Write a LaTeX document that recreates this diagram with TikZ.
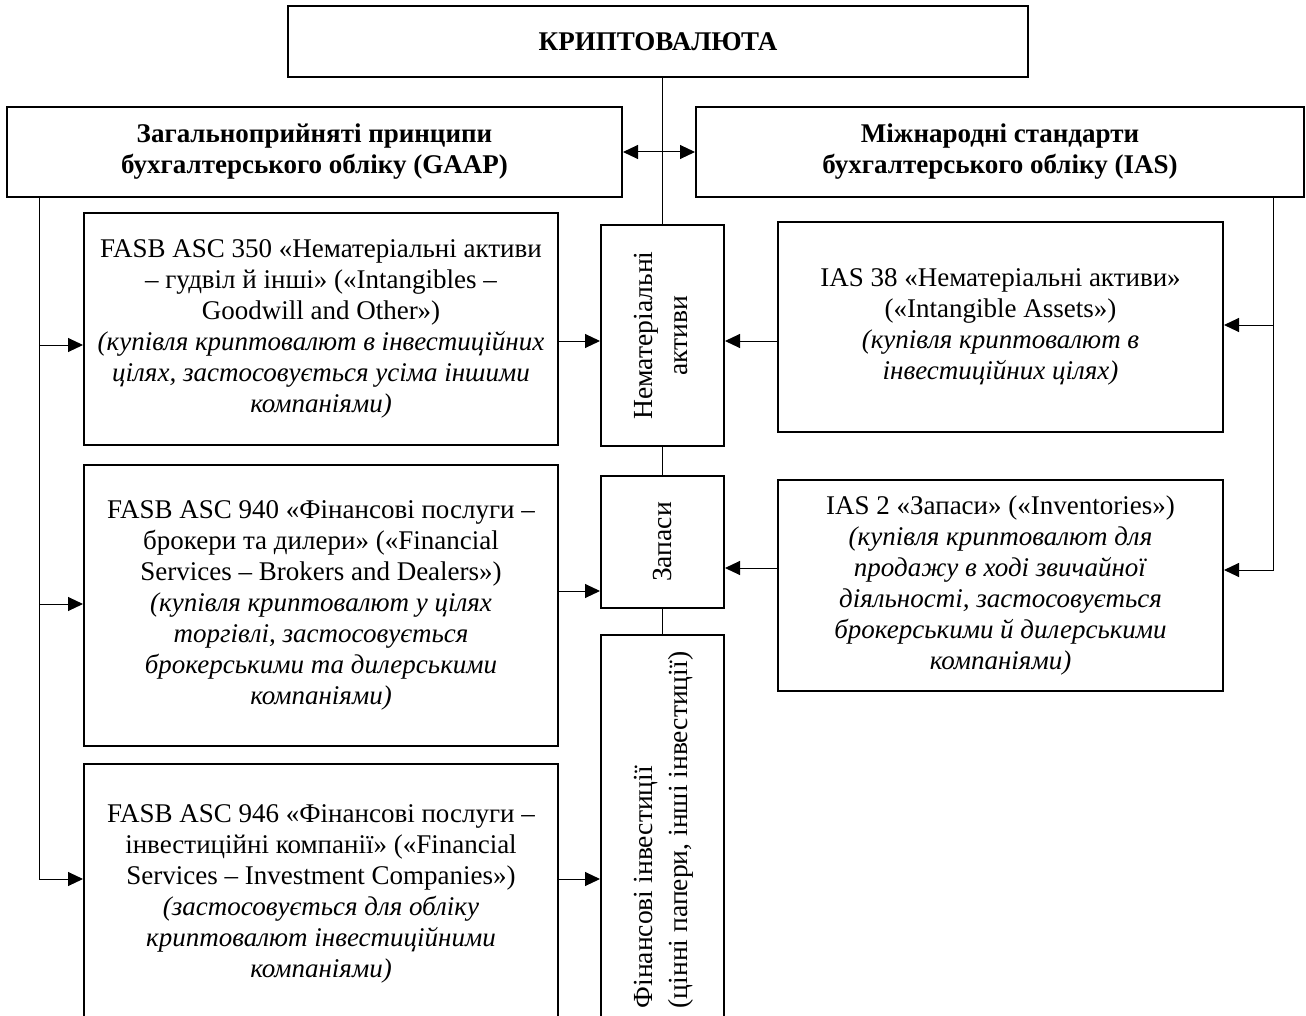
\documentclass[tikz,border=0pt]{standalone}
\usepackage{fontspec}
\setmainfont{Liberation Serif}
\usetikzlibrary{arrows.meta}
\begin{document}
\begin{tikzpicture}[x=0.5pt,y=-0.5pt,
  box/.style={draw, line width=1pt, align=center, inner sep=0pt, font=\fontsize{13.5}{15.5}\selectfont},
  bbox/.style={box, font=\fontsize{13.5}{15.5}\selectfont\bfseries},
  rot/.style={draw, line width=1pt, inner sep=0pt, minimum width=61.5pt, font=\fontsize{13.8}{17.5}\selectfont},
  link/.style={line width=0.5pt},
  arr/.style={line width=0.5pt, -{Triangle[length=7.5pt,width=7pt]}},
  darr/.style={line width=0.5pt, {Triangle[length=7.5pt,width=7pt]}-{Triangle[length=7.5pt,width=7pt]}},
]
\useasboundingbox (0,0) rectangle (1306,1016);
\clip (0,0) rectangle (1306,1016);

\node[bbox, minimum width=370pt, minimum height=35.5pt] (top) at (658,41.5) {КРИПТОВАЛЮТА};
\node[bbox, minimum width=307.5pt, minimum height=45pt] (gaap) at (314.5,152) {Загальноприйняті принципи\\бухгалтерського обліку (GAAP)};
\node[bbox, minimum width=304pt, minimum height=45pt] (ias) at (1000,152) {Міжнародні стандарти\\бухгалтерського обліку (IAS)};

\node[box, minimum width=237pt, minimum height=116pt] (f350) at (321,329) {FASB ASC 350 «Нематеріальні активи\\– гудвіл й інші» («Intangibles –\\Goodwill and Other»)\\\textit{(купівля криптовалют в інвестиційних}\\\textit{цілях, застосовується усіма іншими}\\\textit{компаніями)}};
\node[box, minimum width=237pt, minimum height=140.5pt] (f940) at (321,605.5) {FASB ASC 940 «Фінансові послуги –\\брокери та дилери» («Financial\\Services – Brokers and Dealers»)\\\textit{(купівля криптовалют у цілях}\\\textit{торгівлі, застосовується}\\\textit{брокерськими та дилерськими}\\\textit{компаніями)}};
\node[box, minimum width=237pt, minimum height=130pt] (f946) at (321,894) {FASB ASC 946 «Фінансові послуги –\\інвестиційні компанії» («Financial\\Services – Investment Companies»)\\\textit{(застосовується для обліку}\\\textit{криптовалют інвестиційними}\\\textit{компаніями)}};

\node[box, minimum width=222.5pt, minimum height=104.5pt] (ias38) at (1000.5,327) {IAS 38 «Нематеріальні активи»\\(«Intangible Assets»)\\\textit{(купівля криптовалют в}\\\textit{інвестиційних цілях)}};
\node[box, minimum width=222.5pt, minimum height=105.5pt] (ias2) at (1000.5,585.5) {IAS 2 «Запаси» («Inventories»)\\\textit{(купівля криптовалют для}\\\textit{продажу в ході звичайної}\\\textit{діяльності, застосовується}\\\textit{брокерськими й дилерськими}\\\textit{компаніями)}};

\node[rot, minimum height=110.5pt] (nem) at (662.5,335.5) {\rotatebox{90}{\begin{tabular}{@{}c@{}}Нематеріальні\\активи\end{tabular}}};
\node[rot, minimum height=66pt] (zap) at (662.5,542) {\rotatebox{90}{Запаси}};
\node[rot, minimum height=195pt] (fin) at (662.5,830) {\rotatebox{90}{\begin{tabular}{@{}l@{}}Фінансові інвестиції\\(цінні папери, інші інвестиції)\end{tabular}}};

\coordinate (gl) at (39,0);
\coordinate (ir) at (1273,0);

\draw[link] (nem.north |- top.south) -- (nem.north);
\draw[link] (nem.south) -- (zap.north);
\draw[link] (zap.south) -- (fin.north);

\draw[darr] (gaap.east) -- (ias.west);

\draw[arr] (gl |- gaap.south) |- (f946.west |- 0,879);
\draw[arr] (gl |- 0,345) -- (f350.west |- 0,345);
\draw[arr] (gl |- 0,604) -- (f940.west |- 0,604);

\draw[arr] (ir |- ias.south) |- (ias2.east |- 0,570);
\draw[arr] (ir |- 0,325) -- (ias38.east |- 0,325);

\draw[arr] (f350.east |- 0,341) -- (nem.west |- 0,341);
\draw[arr] (ias38.west |- 0,341) -- (nem.east |- 0,341);
\draw[arr] (f940.east |- 0,591) -- (zap.west |- 0,591);
\draw[arr] (ias2.west |- 0,568) -- (zap.east |- 0,568);
\draw[arr] (f946.east |- 0,879) -- (fin.west |- 0,879);
\end{tikzpicture}
\end{document}
